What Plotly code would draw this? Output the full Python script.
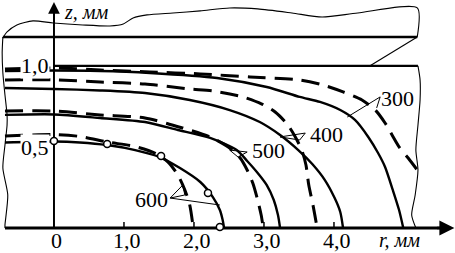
import plotly.graph_objects as go

# ---------------- data (r, z in mm) ----------------
# isotherms: calculated (solid) and measured (dashed)
r_300_calc = [-0.70, 0.00, 0.66, 1.37, 2.33, 3.04, 3.51, 3.80, 4.09, 4.30, 4.49, 4.63, 4.73, 4.84, 4.93, 4.99]
z_300_calc = [0.969, 0.972, 0.969, 0.957, 0.926, 0.870, 0.809, 0.778, 0.728, 0.667, 0.562, 0.463, 0.377, 0.235, 0.111, 0.0]
r_300_meas = [-0.70, 0.00, 0.66, 1.37, 2.09, 2.80, 3.51, 3.84, 4.13, 4.40, 4.59, 4.73, 4.83, 4.94, 5.06, 5.19]
z_300_meas = [0.981, 0.988, 0.975, 0.963, 0.951, 0.932, 0.914, 0.883, 0.840, 0.790, 0.728, 0.648, 0.574, 0.494, 0.432, 0.358]

r_400_calc = [-0.70, 0.00, 0.66, 1.30, 1.94, 2.51, 2.94, 3.23, 3.49, 3.69, 3.87, 4.01, 4.09, 4.13]
z_400_calc = [0.864, 0.858, 0.849, 0.833, 0.790, 0.728, 0.654, 0.574, 0.481, 0.395, 0.296, 0.185, 0.099, 0.0]
r_400_meas = [-0.70, 0.00, 0.66, 1.30, 1.94, 2.27, 2.70, 2.97, 3.16, 3.33, 3.44, 3.54, 3.60, 3.64, 3.70, 3.76]
z_400_meas = [0.914, 0.914, 0.901, 0.889, 0.858, 0.846, 0.809, 0.765, 0.716, 0.642, 0.568, 0.481, 0.389, 0.265, 0.142, 0.0]

r_500_calc = [-0.70, 0.00, 0.66, 1.30, 1.77, 2.23, 2.61, 2.76, 2.91, 3.04, 3.14, 3.20, 3.23]
z_500_calc = [0.698, 0.701, 0.679, 0.654, 0.605, 0.556, 0.481, 0.414, 0.340, 0.265, 0.173, 0.080, 0.0]
r_500_meas = [-0.70, 0.00, 0.66, 1.30, 1.84, 2.23, 2.49, 2.66, 2.76, 2.84, 2.91, 2.96, 2.99]
z_500_meas = [0.722, 0.722, 0.698, 0.679, 0.617, 0.562, 0.500, 0.432, 0.358, 0.278, 0.173, 0.080, 0.0]

r_600_calc = [-0.70, 0.00, 0.37, 0.76, 1.16, 1.51, 1.80, 2.09, 2.27, 2.37, 2.41, 2.43]
z_600_calc = [0.528, 0.534, 0.528, 0.512, 0.481, 0.438, 0.370, 0.284, 0.191, 0.111, 0.049, 0.0]
r_600_meas = [-0.70, 0.00, 0.37, 0.76, 1.16, 1.44, 1.63, 1.77, 1.87, 1.94, 1.99]
z_600_meas = [0.568, 0.577, 0.565, 0.531, 0.503, 0.463, 0.407, 0.327, 0.235, 0.142, 0.0]

# experimental points on the 600 isotherm
r_600_pts = [0.00, 0.76, 1.53, 2.20, 2.37]
z_600_pts = [0.537, 0.519, 0.444, 0.216, 0.006]

# workpiece outline
r_top_wave = [-0.73, -0.67, -0.53, -0.30, -0.01, 0.41, 0.80, 0.99, 1.13, 1.33, 1.70, 2.09, 2.51, 2.91, 3.40, 3.83, 4.34, 5.19, 5.19]
z_top_wave = [1.173, 1.210, 1.253, 1.278, 1.265, 1.253, 1.247, 1.259, 1.296, 1.315, 1.327, 1.340, 1.358, 1.352, 1.327, 1.302, 1.327, 1.358, 1.179]
r_upper_edge = [-0.73, 5.19]
z_upper_edge = [1.179, 1.179]
r_lower_edge = [0.00, 5.20]
z_lower_edge = [1.0, 1.0]
r_bevel = [5.19, 4.51]
z_bevel = [1.179, 1.0]
r_right_wave = [5.20, 5.23, 5.23, 5.20, 5.17, 5.20, 5.16, 5.11, 5.17]
z_right_wave = [1.0, 0.914, 0.790, 0.636, 0.481, 0.358, 0.204, 0.080, 0.0]
r_left_wave = [-0.73, -0.74, -0.73, -0.70, -0.67, -0.67, -0.70, -0.73, -0.66, -0.70, -0.70]
z_left_wave = [1.179, 1.080, 0.957, 0.821, 0.698, 0.636, 0.512, 0.370, 0.204, 0.019, 0.0]

# axes
r_ticks = [1, 2, 3, 4]
r_tick_labels = ["1,0", "2,0", "3,0", "4,0"]
z_tick_vals = [1.0, 0.5]
z_tick_labels = ["1,0", "0,5"]

# isotherm labels and their leader lines
iso_labels = ["300", "400", "500", "600"]
iso_label_r = [4.91, 3.90, 3.06, 1.40]
iso_label_z = [0.80, 0.58, 0.48, 0.175]
lead_300_r = [4.19, 4.66, 4.61]
lead_300_z = [0.685, 0.809, 0.741]
lead_400_r = [3.23, 3.59, 3.51, 3.23]
lead_400_z = [0.562, 0.586, 0.543, 0.562]
lead_500_r = [2.51, 2.76, 2.63, 2.51]
lead_500_z = [0.481, 0.469, 0.438, 0.481]
lead_600_r = [2.37, 1.66, 1.84, 1.87, 1.66]
lead_600_z = [0.142, 0.185, 0.265, 0.204, 0.185]

FONT = "'Liberation Serif', 'Times New Roman', 'DejaVu Serif', serif"
BLACK = "black"

fig = go.Figure()

def line(r, z, width, dash="solid", shape="linear"):
    fig.add_trace(go.Scatter(x=r, y=z, mode="lines",
                             line=dict(color=BLACK, width=width, dash=dash, shape=shape, smoothing=0.7),
                             hoverinfo="skip", showlegend=False))

# outline
line(r_top_wave, z_top_wave, 1.1, shape="spline")
line(r_left_wave, z_left_wave, 1.1, shape="spline")
line(r_right_wave, z_right_wave, 1.1, shape="spline")
line(r_bevel, z_bevel, 1.1)
line(r_upper_edge, z_upper_edge, 2.6)
line(r_lower_edge, z_lower_edge, 2.2)

# isotherms
DASH = "18px,9px"
for rc, zc, rm, zm in [(r_300_calc, z_300_calc, r_300_meas, z_300_meas),
                       (r_400_calc, z_400_calc, r_400_meas, z_400_meas),
                       (r_500_calc, z_500_calc, r_500_meas, z_500_meas),
                       (r_600_calc, z_600_calc, r_600_meas, z_600_meas)]:
    line(rc, zc, 2.4, shape="spline")
    line(rm, zm, 3.0, dash=DASH, shape="spline")

# leader lines
for lr, lz in [(lead_300_r, lead_300_z), (lead_400_r, lead_400_z),
               (lead_500_r, lead_500_z), (lead_600_r, lead_600_z)]:
    line(lr, lz, 1.0)

# axes lines
line([-0.70, 5.55], [0, 0], 3.0)
line([0, 0], [0, 1.33], 2.0)
# r ticks
tx, ty = [], []
for t in r_ticks:
    tx += [t, t, None]
    ty += [0, 0.037, None]
fig.add_trace(go.Scatter(x=tx, y=ty, mode="lines", line=dict(color=BLACK, width=1.5),
                         hoverinfo="skip", showlegend=False))

# experimental points
fig.add_trace(go.Scatter(x=r_600_pts, y=z_600_pts, mode="markers",
                         marker=dict(size=7, color="white", line=dict(color=BLACK, width=1.5)),
                         hoverinfo="skip", showlegend=False))

ann = []
# arrow heads
ann.append(dict(x=5.72, y=0, ax=5.45, ay=0, xref="x", yref="y", axref="x", ayref="y",
                showarrow=True, arrowhead=2, arrowsize=1.2, arrowwidth=2.5, arrowcolor=BLACK, text=""))
ann.append(dict(x=0, y=1.395, ax=0, ay=1.25, xref="x", yref="y", axref="x", ayref="y",
                showarrow=True, arrowhead=2, arrowsize=1.3, arrowwidth=1.8, arrowcolor=BLACK, text=""))
# tick labels
ann.append(dict(x=0.03, y=-0.077, text="0", showarrow=False, xref="x", yref="y",
                font=dict(family=FONT, size=22, color=BLACK)))
for t, lab in zip(r_ticks, r_tick_labels):
    ann.append(dict(x=t, y=-0.077, text=lab, showarrow=False, xref="x", yref="y", xshift=3,
                    font=dict(family=FONT, size=22, color=BLACK)))
for v, lab in zip(z_tick_vals, z_tick_labels):
    ann.append(dict(x=-0.27, y=v, text=lab, showarrow=False, xref="x", yref="y",
                    bgcolor="white", borderpad=0,
                    font=dict(family=FONT, size=22, color=BLACK)))
# axis titles
ann.append(dict(x=4.94, y=-0.074, text="<i>r, мм</i>", showarrow=False, xref="x", yref="y",
                font=dict(family=FONT, size=20, color=BLACK)))
ann.append(dict(x=0.46, y=1.333, text="<i>z, мм</i>", showarrow=False, xref="x", yref="y",
                font=dict(family=FONT, size=20, color=BLACK)))
# isotherm labels
for lab, lr, lz in zip(iso_labels, iso_label_r, iso_label_z):
    ann.append(dict(x=lr, y=lz, text=lab, showarrow=False, xref="x", yref="y",
                    font=dict(family=FONT, size=22, color=BLACK)))

fig.update_layout(
    width=455, height=253,
    margin=dict(l=0, r=0, t=0, b=0),
    paper_bgcolor="white", plot_bgcolor="white",
    font=dict(family=FONT, color=BLACK),
    xaxis=dict(range=[-0.771, 5.729], visible=False, fixedrange=True),
    yaxis=dict(range=[-0.154, 1.407], visible=False, fixedrange=True),
    annotations=ann,
    showlegend=False,
)

fig.write_html("out.html", config={"displayModeBar": False},
               post_script="document.body.style.margin='0';document.body.style.overflow='hidden';")
